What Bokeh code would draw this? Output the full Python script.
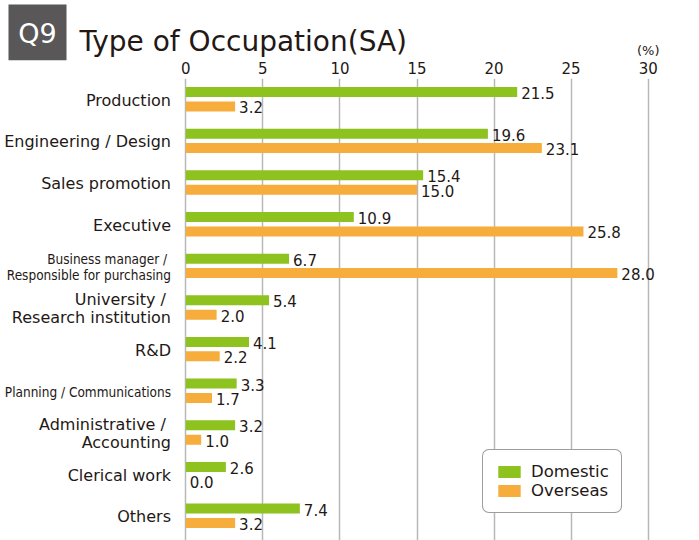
from bokeh.plotting import figure
from bokeh.layouts import column
from bokeh.models import Range1d, FixedTicker, Legend, LegendItem, ColumnDataSource
from bokeh.core.properties import value
from bokeh.embed import file_html
from bokeh.resources import INLINE

# ---------------- data ----------------
categories = [
    "Production",
    "Engineering / Design",
    "Sales promotion",
    "Executive",
    "Business manager / \nResponsible for purchasing",
    "University / \nResearch institution",
    "R&D",
    "Planning / Communications",
    "Administrative / \nAccounting",
    "Clerical work",
    "Others",
]
domestic = [21.5, 19.6, 15.4, 10.9, 6.7, 5.4, 4.1, 3.3, 3.2, 2.6, 7.4]
overseas = [3.2, 23.1, 15.0, 25.8, 28.0, 2.0, 2.2, 1.7, 1.0, 0.0, 3.2]
series = ["Domestic", "Overseas"]
x_ticks = [0, 5, 10, 15, 20, 25, 30]
title_badge = "Q9"
title_text = "Type of Occupation(SA)"
unit_text = "(%)"
condensed = {"Business manager / \nResponsible for purchasing", "Planning / Communications"}

# ---------------- style / layout ----------------
W = 699
HEAD_H = 78            # header incl. axis
HEAD_FRAME = 60        # header frame height (axis below it)
MAIN_H = 540 - HEAD_H
GREEN = "#8dc21f"
ORANGE = "#f6ad3c"
TXT = "#231815"
GRID = "#b8b8b8"
BADGE = "#595757"
FONT = "DejaVu Sans"
NARROW = "DejaVu Sans Condensed, Roboto"

PX = (647.7 - 185.3) / 30.0     # px per percent
ZERO_X = 185.3                  # px of 0%
GROUP = 41.65                   # px per category
C0 = 98.75 - HEAD_H             # px (main fig) of first category centre

x_range = Range1d(-ZERO_X / PX, (W - ZERO_X) / PX)

def px2x(px):
    return (px - ZERO_X) / PX

# ---------------- header (title + x axis) ----------------
h = figure(width=W, height=HEAD_H, x_range=x_range, y_range=Range1d(HEAD_FRAME, 0),
           x_axis_location="below", y_axis_location=None, toolbar_location=None,
           output_backend="svg", min_border_left=0, min_border_right=0, min_border_top=0,
           min_border_bottom=HEAD_H - HEAD_FRAME, outline_line_color=None)
h.xgrid.visible = False
h.ygrid.visible = False
ax = h.xaxis[0]
ax.ticker = FixedTicker(ticks=x_ticks)
ax.axis_line_color = None
ax.major_tick_line_color = None
ax.minor_tick_line_color = None
ax.major_tick_out = 0
ax.major_tick_in = 0
ax.major_label_text_font = FONT
ax.major_label_text_font_size = "15px"
ax.major_label_text_color = TXT
ax.major_label_standoff = 1

h.quad(left=[px2x(8)], right=[px2x(66)], top=[4], bottom=[HEAD_FRAME],
       fill_color=BADGE, line_color=None)
h.text(x=[px2x(37)], y=[32.5], text=[title_badge], text_font=value(FONT), text_font_size="27px",
       text_color="white", text_align="center", text_baseline="middle")
h.text(x=[px2x(79)], y=[41], text=[title_text], text_font=value(FONT), text_font_size="28px",
       text_color=TXT, text_align="left", text_baseline="alphabetic")
h.text(x=[x_ticks[-1]], y=[50], text=[unit_text], text_font=value(FONT), text_font_size="13px",
       text_color=TXT, text_align="center", text_baseline="middle")

# ---------------- main chart ----------------
y_top = (0 - C0) / GROUP
y_bot = (MAIN_H - C0) / GROUP

p = figure(width=W, height=MAIN_H, x_range=x_range, y_range=Range1d(y_bot, y_top),
           x_axis_location=None, y_axis_location=None,
           toolbar_location=None, output_backend="svg",
           min_border=0, outline_line_color=None)

p.xgrid.ticker = FixedTicker(ticks=x_ticks)
p.xgrid.grid_line_color = GRID
p.xgrid.grid_line_width = 1.5
p.ygrid.visible = False

OFF = 7.2 / GROUP
BH = 10.0 / GROUP
idx = list(range(len(categories)))
src_d = ColumnDataSource(dict(y=[i - OFF for i in idx], v=domestic,
                              t=[f"{v:.1f}" for v in domestic]))
src_o = ColumnDataSource(dict(y=[i + OFF for i in idx], v=overseas,
                              t=[f"{v:.1f}" for v in overseas]))

r_d = p.hbar(y="y", left=0, right="v", height=BH, source=src_d, fill_color=GREEN, line_color=None)
r_o = p.hbar(y="y", left=0, right="v", height=BH, source=src_o, fill_color=ORANGE, line_color=None)

for src in (src_d, src_o):
    p.text(x="v", y="y", text="t", source=src, x_offset=4, y_offset=1,
           text_font=value(FONT), text_font_size="15px", text_color=TXT,
           text_align="left", text_baseline="middle")

# category labels
lab_x = px2x(170.5)
norm = dict(x=[], y=[], t=[], yo=[])
narr = dict(x=[], y=[], t=[], yo=[])
for i, c in enumerate(categories):
    lines = c.split("\n")
    tgt = narr if c in condensed else norm
    gap = 16.5 if c in condensed else 18.0
    n = len(lines)
    for k, ln in enumerate(lines):
        tgt["x"].append(lab_x)
        tgt["y"].append(i)
        tgt["t"].append(ln)
        tgt["yo"].append((k - (n - 1) / 2.0) * gap + 1)

p.text(x="x", y="y", text="t", y_offset="yo", source=ColumnDataSource(norm),
       text_font=value(FONT), text_font_size="16px", text_color=TXT,
       text_align="right", text_baseline="middle")
p.text(x="x", y="y", text="t", y_offset="yo", source=ColumnDataSource(narr),
       text_font=value(NARROW), text_font_size="13.5px", text_color=TXT,
       text_align="right", text_baseline="middle")

legend = Legend(items=[LegendItem(label=series[0], renderers=[r_d]),
                       LegendItem(label=series[1], renderers=[r_o])],
                location=(482, 27), glyph_width=28, glyph_height=15,
                label_text_font=FONT, label_text_font_size="16.5px", label_text_color=TXT,
                label_height=15, spacing=0, padding=12, margin=0, label_standoff=8,
                border_line_color="#3e3a39", border_line_width=1.5,
                background_fill_color="white", background_fill_alpha=1.0)
try:
    legend.border_radius = 7
except Exception:
    pass
p.add_layout(legend)

layout = column(h, p, spacing=0)
open("out.html", "w").write(file_html(layout, INLINE))
